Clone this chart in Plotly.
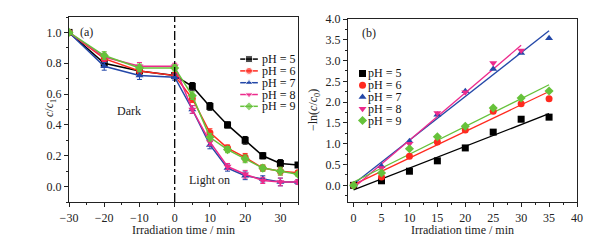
import numpy as np
import plotly.graph_objects as go

# ---- data ----
t_a = [-30, -20, -10, 0, 5, 10, 15, 20, 25, 30, 35]
a_ph5 = [1.00, 0.80, 0.75, 0.72, 0.65, 0.52, 0.40, 0.30, 0.20, 0.15, 0.14]
a_ph6 = [1.00, 0.83, 0.75, 0.72, 0.57, 0.35, 0.25, 0.19, 0.12, 0.10, 0.09]
a_ph7 = [1.00, 0.78, 0.72, 0.71, 0.50, 0.27, 0.12, 0.07, 0.05, 0.03, 0.03]
a_ph8 = [1.00, 0.84, 0.78, 0.78, 0.50, 0.29, 0.13, 0.08, 0.04, 0.03, 0.03]
a_ph9 = [1.00, 0.85, 0.77, 0.77, 0.59, 0.32, 0.24, 0.18, 0.12, 0.10, 0.08]
a_err = [0.00, 0.025, 0.025, 0.02, 0.025, 0.025, 0.02, 0.025, 0.02, 0.025, 0.015]

t_b = [0, 5, 10, 15, 20, 25, 30, 35]
b_ph5 = [0.00, 0.11, 0.34, 0.59, 0.90, 1.28, 1.59, 1.64]
b_ph6 = [0.00, 0.20, 0.70, 1.04, 1.33, 1.78, 1.96, 2.08]
b_ph7 = [0.00, 0.46, 1.06, 1.70, 2.26, 2.80, 3.18, 3.54]
b_ph8 = [0.00, 0.42, 1.00, 1.74, 2.24, 2.94, 3.24]
b_ph9 = [0.00, 0.30, 0.88, 1.17, 1.42, 1.86, 2.10, 2.27]

labels = ["pH = 5", "pH = 6", "pH = 7", "pH = 8", "pH = 9"]
colors = ["#000000", "#ff2a1f", "#2448a8", "#ec2a8c", "#66c23a"]
symbols = ["square", "circle", "triangle-up", "triangle-down", "diamond"]

FONT = "Liberation Serif"
FS = 12
W, H = 604, 240
fig = go.Figure()

a_series = [a_ph5, a_ph6, a_ph7, a_ph8, a_ph9]
for lab, col, sym, ys in zip(labels, colors, symbols, a_series):
    fig.add_trace(go.Scatter(
        x=t_a, y=ys, mode="lines+markers", name=lab, showlegend=False,
        line=dict(color=col, width=1.5),
        marker=dict(symbol=sym, size=7, color=col),
        error_y=dict(type="data", array=a_err, color=col, thickness=1, width=2.5),
        xaxis="x", yaxis="y"))

b_series = [b_ph5, b_ph6, b_ph7, b_ph8, b_ph9]
for lab, col, sym, ys in zip(labels, colors, symbols, b_series):
    xs = t_b[:len(ys)]
    k, b0 = np.polyfit(xs, ys, 1)
    xf = [xs[0], xs[-1]]
    fig.add_trace(go.Scatter(
        x=xf, y=[k * v + b0 for v in xf], mode="lines", showlegend=False,
        line=dict(color=col, width=1.3), xaxis="x2", yaxis="y2"))
for lab, col, sym, ys in zip(labels, colors, symbols, b_series):
    xs = t_b[:len(ys)]
    fig.add_trace(go.Scatter(
        x=xs, y=ys, mode="markers", name=lab, showlegend=False,
        marker=dict(symbol=sym, size=7, color=col),
        xaxis="x2", yaxis="y2"))

# ---- compact legends, placed in each panel's own data units ----
LA_X0, LA_X1, LA_Y0, LA_DY = 18.6, 23.6, 0.827, -0.0766   # panel (a)
LB_X, LB_Y0, LB_DY = 1.6, 2.69, -0.283                      # panel (b)
for i, (lab, col, sym) in enumerate(zip(labels, colors, symbols)):
    ya = LA_Y0 + i * LA_DY
    xm = (LA_X0 + LA_X1) / 2
    fig.add_trace(go.Scatter(
        x=[LA_X0, xm, LA_X1], y=[ya] * 3, mode="lines+markers",
        showlegend=False, hoverinfo="skip",
        line=dict(color=col, width=1.5),
        marker=dict(symbol=sym, size=[0, 7, 0], color=col),
        xaxis="x", yaxis="y"))
    fig.add_annotation(x=LA_X1 + 0.5, y=ya, xref="x", yref="y", text=lab,
                       xanchor="left", yanchor="middle", showarrow=False,
                       font=dict(family=FONT, size=FS, color="#111"))
    yb = LB_Y0 + i * LB_DY
    fig.add_trace(go.Scatter(
        x=[LB_X], y=[yb], mode="markers", showlegend=False, hoverinfo="skip",
        marker=dict(symbol=sym, size=7, color=col),
        xaxis="x2", yaxis="y2"))
    fig.add_annotation(x=LB_X + 0.7, y=yb, xref="x2", yref="y2", text=lab,
                       xanchor="left", yanchor="middle", showarrow=False,
                       font=dict(family=FONT, size=FS, color="#111"))

axis_common = dict(
    showline=True, linecolor="#222", linewidth=1.3, mirror=True,
    ticks="outside", ticklen=4, tickwidth=1, tickcolor="#222",
    showgrid=False, zeroline=False,
    tickfont=dict(family=FONT, size=FS, color="#222"),
    minor=dict(ticks="outside", ticklen=2, tickwidth=1, tickcolor="#222"),
)

fig.update_layout(
    width=W, height=H,
    margin=dict(l=0, r=0, t=0, b=0, autoexpand=False),
    paper_bgcolor="white", plot_bgcolor="white",
    font=dict(family=FONT, size=FS, color="#222"),
    showlegend=False,
    xaxis=dict(domain=[69/W, 298/W], range=[-30, 35], dtick=10,
               tick0=-30, minor_dtick=5, anchor="y", **axis_common),
    yaxis=dict(domain=[1-202/H, 1-17/H], range=[-0.1, 1.1], dtick=0.2,
               tick0=0, minor_dtick=0.1, tickformat=".1f",
               anchor="x", **axis_common),
    xaxis2=dict(domain=[348/W, 577/W], range=[-1, 40], dtick=5,
                tick0=0, minor_dtick=2.5, anchor="y2", **axis_common),
    yaxis2=dict(domain=[1-202/H, 1-19/H], range=[-0.4, 4.0], dtick=0.5,
                tick0=0, minor_dtick=0.25, tickformat=".1f",
                anchor="x2", **axis_common),
)

# axis titles as annotations for exact placement
for xr in ["x domain", "x2 domain"]:
    fig.add_annotation(x=0.5, y=1-230/H, xref=xr, yref="paper",
                       text="Irradiation time / min", showarrow=False,
                       xanchor="center", yanchor="middle",
                       font=dict(family=FONT, size=FS, color="#222"))
fig.add_annotation(x=40/W, y=1-108/H, xref="paper", yref="paper",
                   text="<i>c</i>/<i>c</i><sub>1</sub>", textangle=-90,
                   showarrow=False, font=dict(family=FONT, size=FS, color="#222"))
fig.add_annotation(x=314/W, y=1-110/H, xref="paper", yref="paper",
                   text="−ln(<i>c</i>/<i>c</i><sub>0</sub>)", textangle=-90,
                   showarrow=False, font=dict(family=FONT, size=FS, color="#222"))

fig.add_shape(type="line", xref="x", yref="y domain", x0=0, x1=0, y0=0, y1=1,
              line=dict(color="#000", width=1.3, dash="dashdot"))

fig.add_annotation(x=-25, y=1.005, xref="x", yref="y", text="(a)", showarrow=False,
                   font=dict(family=FONT, size=FS))
fig.add_annotation(x=-13, y=0.49, xref="x", yref="y", text="Dark", showarrow=False,
                   font=dict(family=FONT, size=FS))
fig.add_annotation(x=10, y=0.04, xref="x", yref="y", text="Light on", showarrow=False,
                   font=dict(family=FONT, size=FS))
fig.add_annotation(x=2.7, y=3.66, xref="x2", yref="y2", text="(b)", showarrow=False,
                   font=dict(family=FONT, size=FS))

fig.write_html("out.html", config={"displayModeBar": False},
               post_script="document.body.style.margin='0';document.body.style.padding='0';")
